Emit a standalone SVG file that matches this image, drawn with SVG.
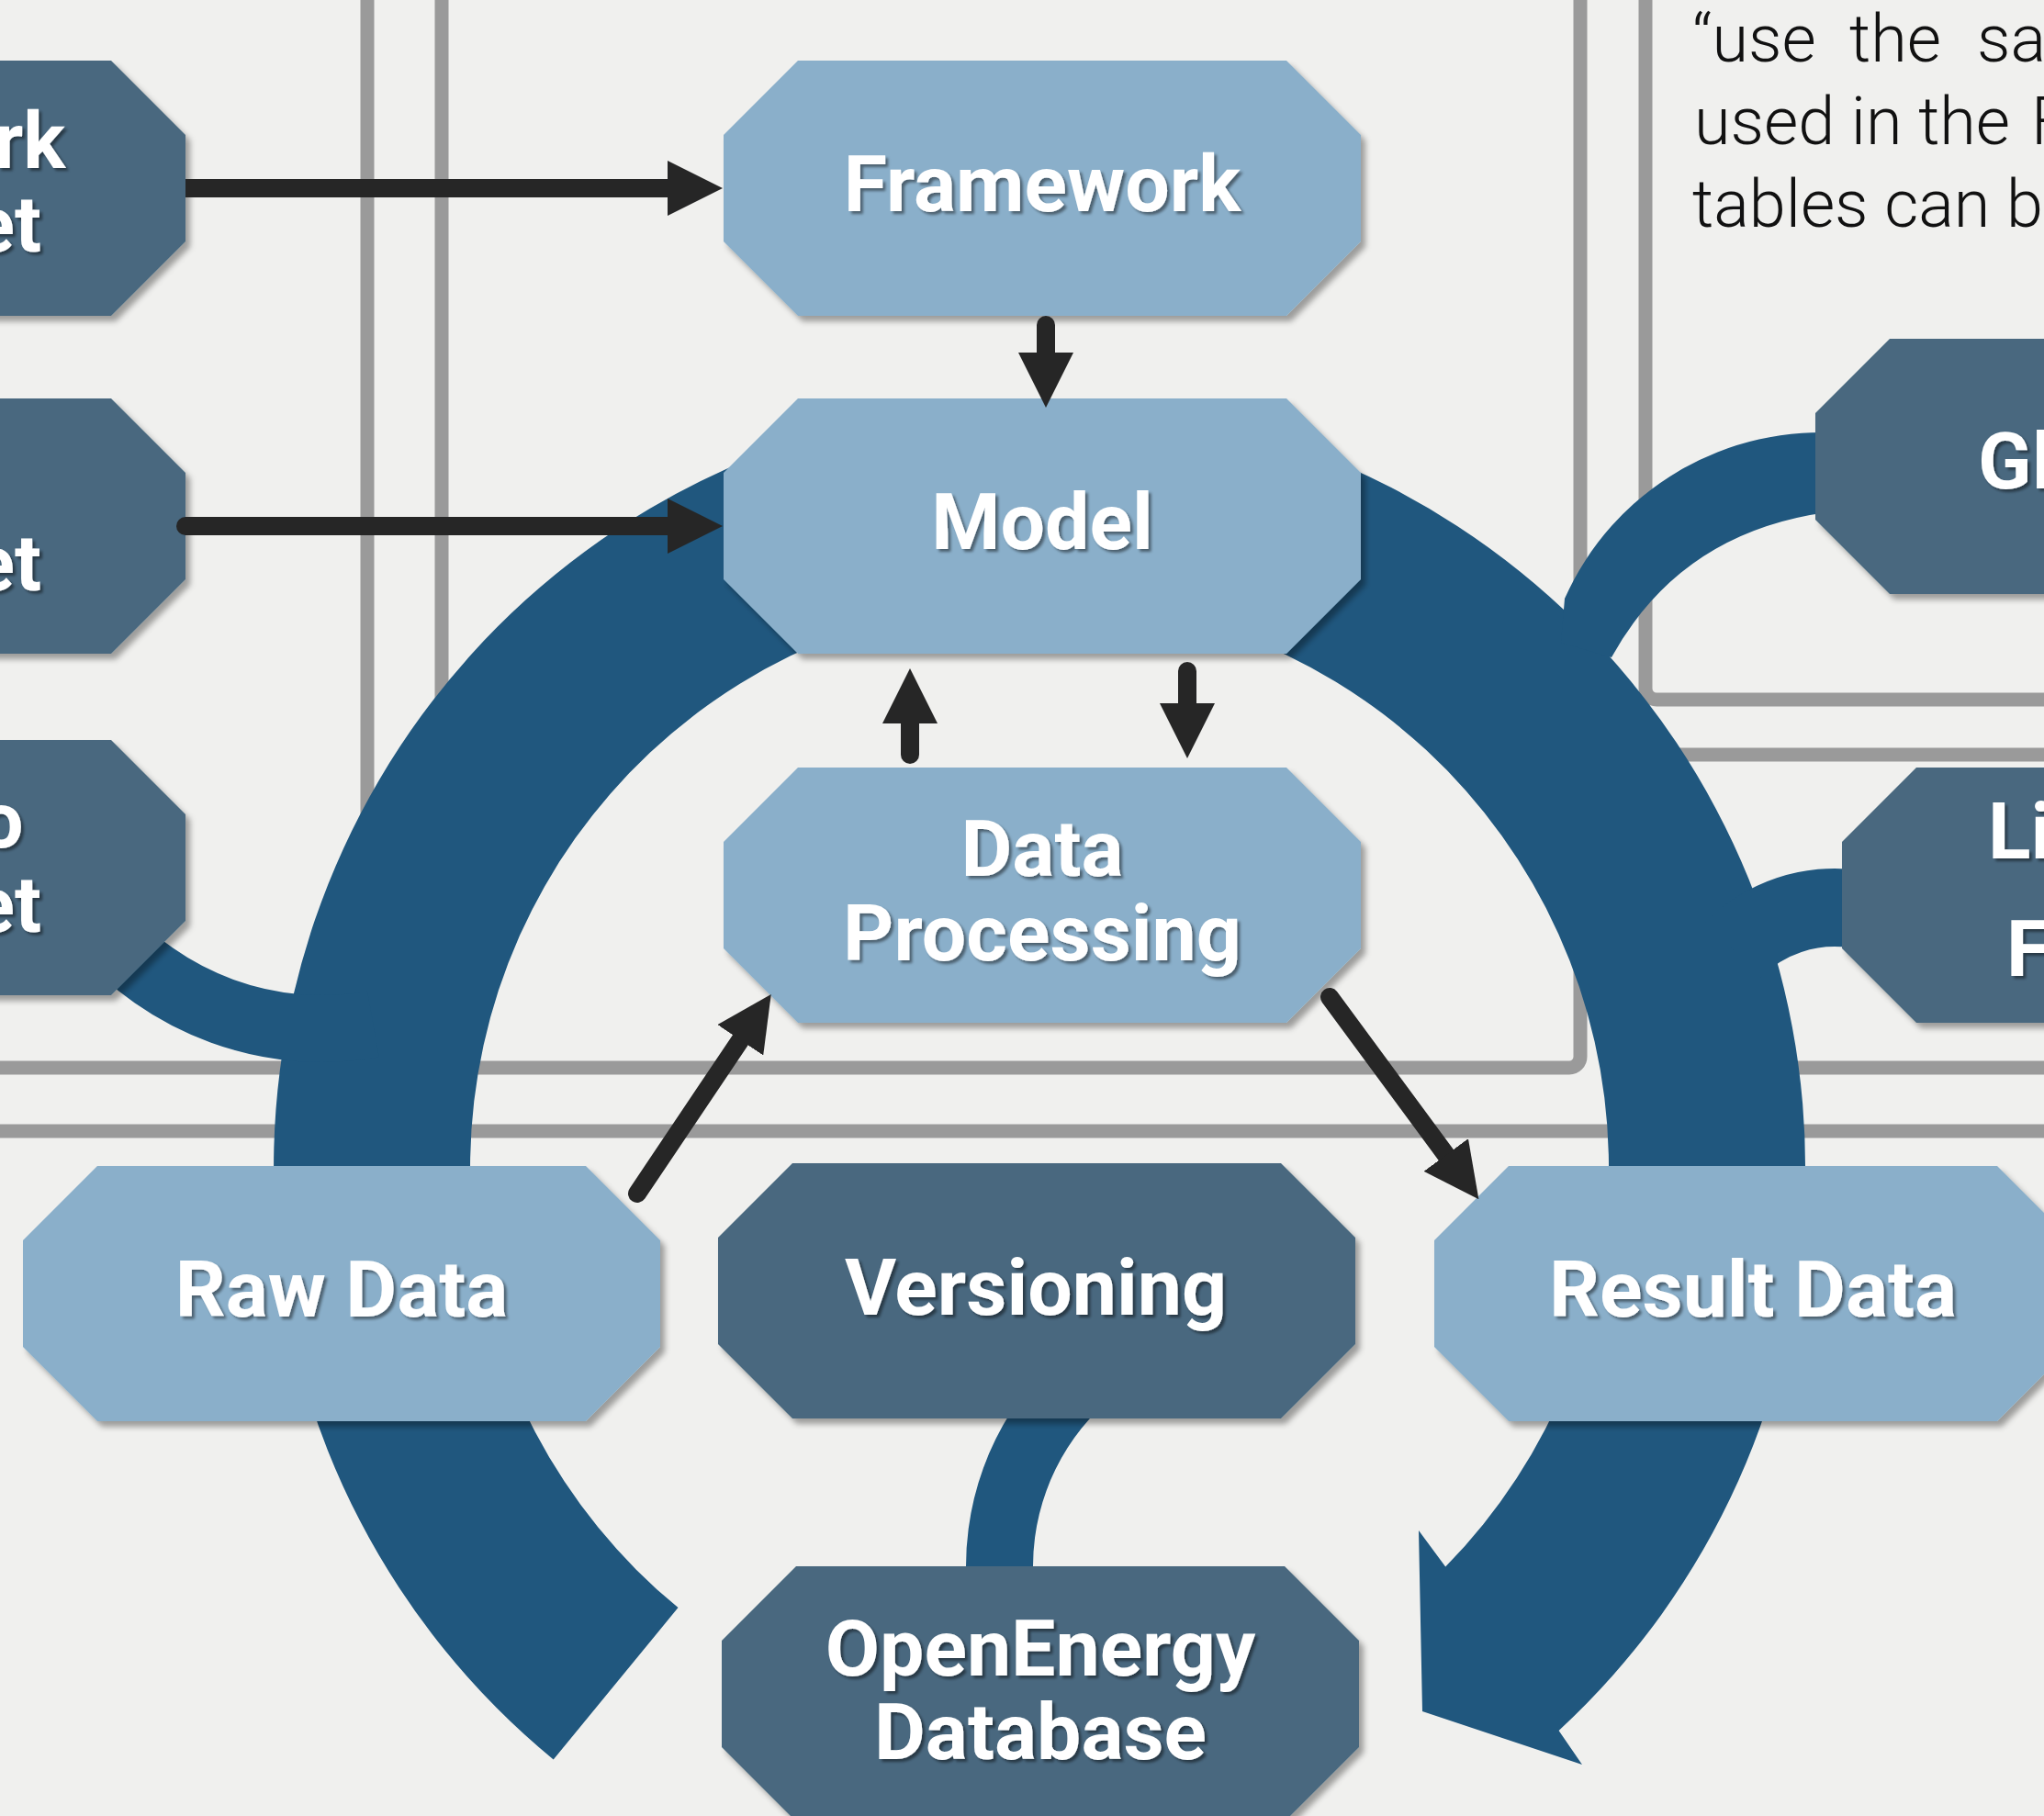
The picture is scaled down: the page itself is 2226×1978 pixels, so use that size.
<svg xmlns="http://www.w3.org/2000/svg" xmlns:xlink="http://www.w3.org/1999/xlink" width="2226" height="1978" viewBox="0 0 2226 1978">
<defs>
<style>
.frame{fill:none;stroke:#9a9a9a;stroke-width:15}
.band{fill:#20577e}
.light{fill:#8aafca}
.dark{fill:#48687f}
.node{filter:url(#sh)}
.lbl{font-family:Roboto,"Liberation Sans",sans-serif;font-weight:700;font-size:86px;fill:#ffffff;text-anchor:middle;filter:url(#tsh)}
.lbls{font-family:Roboto,"Liberation Sans",sans-serif;font-weight:700;font-size:86px;fill:#ffffff;filter:url(#tsh)}
.quote{font-family:Roboto,"Liberation Sans",sans-serif;font-weight:300;font-size:72px;fill:#111111}
.arr{fill:none;stroke:#262626;stroke-width:20;stroke-linecap:round;marker-end:url(#ah)}
.arrb{fill:none;stroke:#262626;stroke-width:20;stroke-linecap:butt;marker-end:url(#ah)}
</style>
<filter id="sh" x="-10%" y="-10%" width="125%" height="130%">
<feDropShadow dx="5" dy="6" stdDeviation="3" flood-color="#000" flood-opacity="0.35"/>
</filter>
<filter id="tsh" x="-10%" y="-20%" width="125%" height="150%">
<feDropShadow dx="3" dy="3" stdDeviation="1.5" flood-color="#000" flood-opacity="0.45"/>
</filter>
<marker id="ah" markerUnits="userSpaceOnUse" viewBox="0 0 60 60" markerWidth="60" markerHeight="60" refX="0" refY="30" orient="auto">
<path d="M0,0 L60,30 L0,60 Z" fill="#262626"/>
</marker>
<path id="oct" d="M81,0 H613 L694,81 V197 L613,278 H81 L0,197 V81 Z"/>
</defs>

<rect x="0" y="0" width="2226" height="1978" fill="#f0f0ee"/>

<g id="frames">
<rect class="frame" x="-100" y="-100" width="500" height="1263" rx="12"/>
<rect class="frame" x="481" y="-100" width="1240" height="1263" rx="12"/>
<rect class="frame" x="1792" y="-100" width="600" height="862" rx="12"/>
<rect class="frame" x="1792" y="822" width="600" height="341" rx="12"/>
<rect class="frame" x="-100" y="1232" width="2500" height="900" rx="12"/>
</g>

<g id="quote">
<text class="quote" y="67"><tspan x="1843">“use</tspan><tspan x="2014">the</tspan><tspan x="2153">sa</tspan></text>
<text class="quote" y="157"><tspan x="1845">used in the</tspan><tspan x="2212">F</tspan></text>
<text class="quote" x="1843" y="247">tables can b</text>
</g>

<g id="cycle">
<path class="band" d="M602.7,1916.4 A834,834 0 1 1 1697.6,1884.9 L1723,1922 L1549,1864 L1545,1667 L1574.2,1706.6 A620,620 0 1 0 738.5,1751.1 Z"/>
<path class="band" d="M2009.6,472.2 A305,305 0 0 0 1704,652 L1700,700 L1755,716 Q1830,580 1990,558 L2002,560 Z"/>
<path class="band" d="M2025.7,947.9 A199,199 0 0 0 1857.3,1004.3 L1917.4,1064.4 A114,114 0 0 1 2013.9,1032.1 Z"/>
<path class="band" d="M134.2,982.9 A283,283 0 0 0 400.1,1079.7 L412.8,1151.6 A356,356 0 0 1 78.3,1029.8 Z"/>
<path class="band" d="M1143.7,1484.7 A313,313 0 0 0 1053.2,1733.3 L1125.9,1726.9 A240,240 0 0 1 1195.3,1536.3 Z"/>
</g>

<g id="node-framework-factsheet"><use href="#oct" x="-492" y="66" class="dark node"/><text class="lbl" x="-145"><tspan x="-145" y="183">Framework</tspan><tspan x="-145" y="274">Factsheet</tspan></text></g>
<g id="node-model-factsheet"><use href="#oct" x="-492" y="434" class="dark node"/><text class="lbl" x="-145"><tspan x="-145" y="551">Model</tspan><tspan x="-145" y="643">Factsheet</tspan></text></g>
<g id="node-scenario-factsheet"><use href="#oct" x="-492" y="806" class="dark node"/><text class="lbl" x="-145"><tspan x="-145" y="923">Scenario</tspan><tspan x="-145" y="1015">Factsheet</tspan></text></g>
<g id="node-framework"><use href="#oct" x="788" y="66" class="light node"/><text class="lbl" x="1135" y="230">Framework</text></g>
<g id="node-model"><use href="#oct" x="788" y="434" class="light node"/><text class="lbl" x="1135" y="598">Model</text></g>
<g id="node-data-processing"><use href="#oct" x="788" y="836" class="light node"/><text class="lbl" x="1135"><tspan x="1135" y="954">Data</tspan><tspan x="1135" y="1046">Processing</tspan></text></g>
<g id="node-raw-data"><use href="#oct" x="25" y="1270" class="light node"/><text class="lbl" x="372" y="1434">Raw Data</text></g>
<g id="node-versioning"><use href="#oct" x="782" y="1267" class="dark node"/><text class="lbl" x="1128" y="1432">Versioning</text></g>
<g id="node-result-data"><use href="#oct" x="1562" y="1270" class="light node"/><text class="lbl" x="1909" y="1434">Result Data</text></g>
<g id="node-openenergy-database"><use href="#oct" x="786" y="1706" class="dark node"/><text class="lbl" x="1133"><tspan x="1133" y="1825">OpenEnergy</tspan><tspan x="1133" y="1916">Database</tspan></text></g>
<g id="node-glossary"><use href="#oct" x="1977" y="369" class="dark node"/><text class="lbl" x="2324" y="532">Glossary</text></g>
<g id="node-li"><use href="#oct" x="2006" y="836" class="dark node"/><text class="lbls"><tspan x="2165" y="935">Li</tspan><tspan x="2185" y="1063">F</tspan></text></g>

<g id="connectors">
<path class="arrb" d="M202,205 H727"/>
<path class="arr" d="M202,573 H727"/>
<path class="arr" d="M1139,354 V384"/>
<path class="arr" d="M1293,731 V766"/>
<path class="arr" d="M991,822 V788"/>
<path class="arr" d="M694,1300 L806.3,1132.8"/>
<path class="arr" d="M1448,1086 L1574.8,1258"/>
</g>
</svg>
